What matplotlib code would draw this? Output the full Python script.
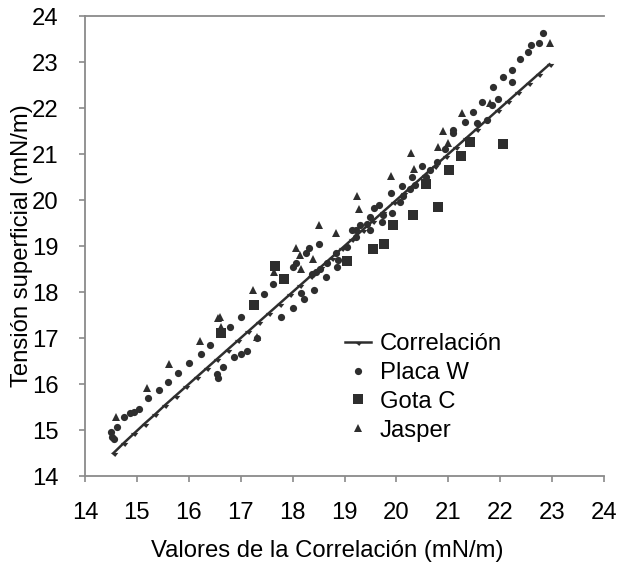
import matplotlib
matplotlib.use("Agg")
import matplotlib.pyplot as plt
from matplotlib.path import Path

plt.rcParams['font.family'] = ['Liberation Sans', 'DejaVu Sans']

# Correlación (line)
corr_x = [14.55, 14.75, 14.95, 15.15, 15.35, 15.55, 15.75, 15.95, 16.15, 16.35,
          16.55, 16.75, 16.95, 17.15, 17.35, 17.55, 17.75, 17.95, 18.15, 18.35,
          18.55, 18.75, 18.95, 19.15, 19.35, 19.55, 19.75, 19.95, 20.15, 20.35,
          20.55, 20.75, 20.95, 21.15, 21.35, 21.55, 21.75, 21.95, 22.15, 22.35,
          22.55, 22.75, 22.95]
corr_y = [14.50, 14.72, 14.93, 15.14, 15.34, 15.55, 15.75, 15.95, 16.15, 16.35,
          16.55, 16.75, 16.95, 17.15, 17.35, 17.55, 17.75, 17.95, 18.15, 18.35,
          18.55, 18.75, 18.95, 19.15, 19.35, 19.55, 19.75, 19.95, 20.15, 20.35,
          20.55, 20.75, 20.95, 21.15, 21.35, 21.55, 21.75, 21.95, 22.15, 22.35,
          22.55, 22.75, 22.95]

# Placa W
placa_x = [14.50, 14.52, 14.55, 14.61, 14.76, 14.87, 14.95, 15.05, 15.22, 15.43,
           15.60, 15.80, 16.01, 16.23, 16.40, 16.54, 16.56, 16.66, 16.88, 17.01,
           17.12, 17.31, 16.79, 17.00, 17.44, 17.63, 17.77, 18.01, 18.16, 18.22,
           18.42, 18.00, 18.07, 18.26, 18.32, 18.51, 18.37, 18.46, 18.53, 18.64,
           18.66, 18.85, 18.87, 18.84, 19.04, 19.22, 19.23, 19.14, 19.29, 19.43,
           19.50, 19.49, 19.56, 19.67, 19.73, 19.75, 19.90, 19.91, 20.07, 20.10,
           20.12, 20.26, 20.31, 20.36, 20.49, 20.57, 20.65, 20.78, 20.94, 21.10,
           21.10, 21.32, 21.47, 21.64, 21.84, 21.96, 21.87, 22.06, 22.22, 22.22,
           22.38, 22.53, 22.60, 22.75, 22.82, 21.55, 21.74]
placa_y = [14.96, 14.85, 14.80, 15.06, 15.29, 15.36, 15.40, 15.45, 15.69, 15.86,
           16.05, 16.25, 16.45, 16.65, 16.85, 16.22, 16.12, 16.38, 16.58, 16.65,
           16.72, 16.99, 17.25, 17.45, 17.96, 18.17, 17.45, 17.65, 17.97, 17.84,
           18.04, 18.55, 18.64, 18.84, 18.95, 19.04, 18.39, 18.44, 18.49, 18.32,
           18.62, 18.55, 18.70, 18.84, 18.98, 19.20, 19.35, 19.35, 19.46, 19.48,
           19.35, 19.64, 19.82, 19.89, 19.53, 19.67, 20.16, 19.71, 19.96, 20.30,
           20.09, 20.23, 20.49, 20.33, 20.74, 20.49, 20.65, 20.83, 21.10, 21.46,
           21.52, 21.70, 21.92, 22.12, 22.07, 22.20, 22.46, 22.67, 22.83, 22.57,
           23.06, 23.21, 23.37, 23.42, 23.62, 21.67, 21.74]

# Gota C
gota_x = [16.62, 17.26, 17.66, 17.83, 19.05, 19.55, 19.76, 19.93, 20.32, 20.80,
          20.57, 21.01, 21.24, 21.42, 22.05]
gota_y = [17.11, 17.72, 18.57, 18.28, 18.67, 18.93, 19.04, 19.46, 19.67, 19.85,
          20.35, 20.65, 20.96, 21.26, 21.22]

# Jasper
jasper_x = [14.60, 15.19, 15.61, 16.22, 16.57, 16.60, 16.63, 17.24, 17.65, 18.07,
            18.14, 18.17, 18.40, 18.50, 18.84, 17.31, 19.25, 19.27, 19.89, 20.29,
            20.33, 20.81, 20.90, 21.00, 21.26, 21.80, 22.96]
jasper_y = [15.28, 15.92, 16.43, 16.94, 17.43, 17.45, 17.25, 18.04, 18.44, 18.96,
            18.80, 18.51, 18.71, 19.46, 19.28, 17.03, 20.09, 19.80, 20.52, 21.02,
            20.67, 21.15, 21.49, 21.23, 21.90, 22.10, 23.42]

ticks = [14, 15, 16, 17, 18, 19, 20, 21, 22, 23, 24]

col = '#2e2e2e'
spine_col = '#8a8a8a'
fs = 17.2

fig = plt.figure(figsize=(6.17, 5.62), dpi=100)
ax = fig.add_axes([85/617, 1-476/562, (604-85)/617, (476-16)/562])

hang = Path([(-1, 0.15), (1, 0.15), (0.2, -0.9), (-1, 0.15)],
            [Path.MOVETO, Path.LINETO, Path.LINETO, Path.CLOSEPOLY])

ax.plot(corr_x, corr_y, color=col, lw=1.8, marker=hang, ms=5.5, mew=0,
        mfc=col, label='Correlación', zorder=3)
ax.plot(placa_x, placa_y, ls='none', marker='o', ms=5.2, color=col,
        mew=0, label='Placa W', zorder=4)
ax.plot(gota_x, gota_y, ls='none', marker='s', ms=7.5, color=col,
        mew=0, label='Gota C', zorder=4)
ax.plot(jasper_x, jasper_y, ls='none', marker='^', ms=5.2, color=col,
        mew=0, label='Jasper', zorder=4)

ax.set_xlim(14, 24)
ax.set_ylim(14, 24)
ax.set_xticks(ticks)
ax.set_yticks(ticks)
ax.set_xticklabels([str(t) for t in ticks])
ax.set_yticklabels([str(t) for t in ticks])

for s in ['left', 'bottom', 'top']:
    ax.spines[s].set_color(spine_col)
    ax.spines[s].set_linewidth(1.3)
ax.spines['right'].set_visible(False)

ax.tick_params(axis='both', direction='out', length=4, width=1.2,
               color=spine_col, labelsize=fs, labelcolor='black')
ax.tick_params(axis='x', pad=15)
ax.tick_params(axis='y', pad=15)

ax.set_xlabel('Valores de la Correlación (mN/m)', fontsize=fs)
ax.xaxis.set_label_coords(0.466, -0.14)
fig.text(22/617, 1-246/562, 'Tensión superficial (mN/m)', fontsize=fs,
         rotation=90, ha='center', va='center')

leg = ax.legend(loc='upper left', bbox_to_anchor=((345-85)/519, (476-333)/460),
                frameon=False, fontsize=fs, handlelength=1.1,
                handletextpad=0.35, labelspacing=0.29, borderpad=0,
                borderaxespad=0)

fig.savefig('out.png', dpi=100)
